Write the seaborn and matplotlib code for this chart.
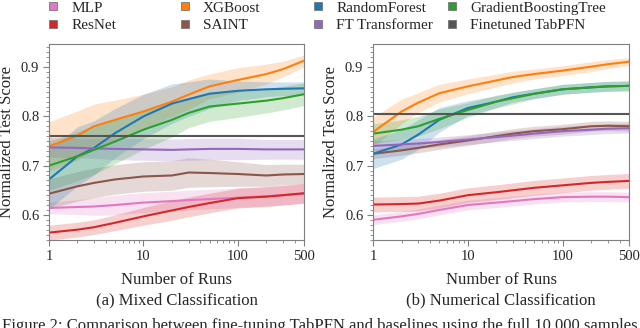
import matplotlib
matplotlib.use("Agg")
import matplotlib.pyplot as plt
from matplotlib.lines import Line2D
from matplotlib.ticker import FixedLocator, MultipleLocator, NullFormatter
import pandas as pd
import seaborn as sns

RUNS = [1, 2, 3, 5, 10, 20, 30, 50, 100, 200, 300, 500]
MODELS = ["MLP", "ResNet", "XGBoost", "SAINT", "RandomForest",
          "FT Transformer", "GradientBoostingTree"]
COLORS = {
    "MLP": "#e377c2",
    "ResNet": "#d62728",
    "XGBoost": "#ff7f0e",
    "SAINT": "#8c564b",
    "RandomForest": "#1f77b4",
    "FT Transformer": "#9467bd",
    "GradientBoostingTree": "#2ca02c",
    "Finetuned TabPFN": "#555555",
}

# (a) Mixed classification
mixed_mean = {
    "MLP": [0.614, 0.616, 0.617, 0.620, 0.625, 0.628, 0.630, 0.632, 0.635, 0.638, 0.640, 0.643],
    "ResNet": [0.564, 0.570, 0.575, 0.584, 0.597, 0.609, 0.616, 0.624, 0.634, 0.637, 0.640, 0.644],
    "XGBoost": [0.739, 0.761, 0.780, 0.793, 0.810, 0.830, 0.844, 0.861, 0.874, 0.886, 0.896, 0.913],
    "SAINT": [0.643, 0.658, 0.665, 0.672, 0.678, 0.680, 0.686, 0.685, 0.683, 0.680, 0.682, 0.683],
    "RandomForest": [0.672, 0.719, 0.736, 0.766, 0.800, 0.826, 0.835, 0.846, 0.852, 0.855, 0.856, 0.857],
    "FT Transformer": [0.737, 0.736, 0.735, 0.734, 0.733, 0.732, 0.733, 0.734, 0.734, 0.733, 0.733, 0.733],
    "GradientBoostingTree": [0.700, 0.719, 0.732, 0.749, 0.773, 0.793, 0.807, 0.820, 0.826, 0.832, 0.837, 0.845],
}
mixed_spread = {
    "MLP": [0.012, 0.015, 0.018, 0.020, 0.020, 0.020, 0.020, 0.020, 0.020, 0.020, 0.020, 0.020],
    "ResNet": [0.015, 0.015, 0.015, 0.016, 0.018, 0.020, 0.020, 0.020, 0.020, 0.020, 0.020, 0.020],
    "XGBoost": [0.050, 0.050, 0.045, 0.040, 0.035, 0.030, 0.030, 0.025, 0.025, 0.020, 0.016, 0.012],
    "SAINT": [0.030, 0.030, 0.030, 0.030, 0.030, 0.030, 0.030, 0.028, 0.025, 0.022, 0.021, 0.020],
    "RandomForest": [0.060, 0.060, 0.055, 0.050, 0.045, 0.040, 0.035, 0.030, 0.020, 0.015, 0.014, 0.013],
    "FT Transformer": [0.020, 0.020, 0.020, 0.022, 0.022, 0.022, 0.022, 0.022, 0.022, 0.020, 0.020, 0.020],
    "GradientBoostingTree": [0.050, 0.050, 0.050, 0.045, 0.040, 0.035, 0.030, 0.030, 0.028, 0.025, 0.024, 0.023],
}
mixed_tabpfn = 0.760

# (b) Numerical classification
numerical_mean = {
    "MLP": [0.590, 0.597, 0.602, 0.610, 0.620, 0.625, 0.628, 0.632, 0.636, 0.637, 0.637, 0.636],
    "ResNet": [0.621, 0.622, 0.623, 0.629, 0.640, 0.646, 0.650, 0.655, 0.660, 0.665, 0.667, 0.669],
    "XGBoost": [0.768, 0.810, 0.828, 0.847, 0.861, 0.873, 0.880, 0.886, 0.893, 0.901, 0.906, 0.911],
    "SAINT": [0.724, 0.731, 0.736, 0.743, 0.751, 0.760, 0.765, 0.770, 0.774, 0.780, 0.781, 0.780],
    "RandomForest": [0.724, 0.743, 0.763, 0.793, 0.817, 0.830, 0.839, 0.846, 0.855, 0.859, 0.861, 0.862],
    "FT Transformer": [0.740, 0.743, 0.745, 0.748, 0.753, 0.758, 0.761, 0.765, 0.770, 0.773, 0.775, 0.776],
    "GradientBoostingTree": [0.765, 0.773, 0.780, 0.795, 0.813, 0.830, 0.837, 0.846, 0.855, 0.859, 0.861, 0.862],
}
numerical_spread = {
    "MLP": [0.010, 0.010, 0.010, 0.010, 0.010, 0.010, 0.010, 0.010, 0.010, 0.010, 0.010, 0.010],
    "ResNet": [0.015, 0.015, 0.015, 0.015, 0.015, 0.015, 0.015, 0.015, 0.015, 0.015, 0.015, 0.015],
    "XGBoost": [0.030, 0.025, 0.020, 0.018, 0.015, 0.013, 0.012, 0.010, 0.010, 0.010, 0.009, 0.008],
    "SAINT": [0.010, 0.010, 0.010, 0.010, 0.010, 0.010, 0.010, 0.010, 0.010, 0.010, 0.010, 0.010],
    "RandomForest": [0.030, 0.030, 0.030, 0.025, 0.015, 0.012, 0.010, 0.010, 0.010, 0.010, 0.010, 0.010],
    "FT Transformer": [0.010, 0.010, 0.010, 0.010, 0.010, 0.010, 0.010, 0.010, 0.010, 0.010, 0.010, 0.010],
    "GradientBoostingTree": [0.020, 0.020, 0.020, 0.020, 0.015, 0.013, 0.012, 0.010, 0.010, 0.010, 0.010, 0.010],
}
numerical_tabpfn = 0.805

X_TICKS = [1, 10, 100, 500]
X_TICK_LABELS = ["1", "10", "100", "500"]
Y_TICKS = [0.6, 0.7, 0.8, 0.9]

sns.set_style("ticks")
plt.rcParams["font.family"] = ["Liberation Serif", "DejaVu Serif"]

SPINE = "#7f7f7f"


def to_frame(mean, spread):
    rows = []
    for model in MODELS:
        for run, m, s in zip(RUNS, mean[model], spread[model]):
            rows.append({"model": model, "runs": run, "score": m,
                         "low": m - s, "high": m + s})
    return pd.DataFrame(rows)


def draw_panel(ax, mean, spread, tabpfn, subtitle):
    df = to_frame(mean, spread)
    for model in MODELS:
        sub = df[df["model"] == model]
        ax.fill_between(sub["runs"], sub["low"], sub["high"],
                        color=COLORS[model], alpha=0.22, linewidth=0)
    sns.lineplot(data=df, x="runs", y="score", hue="model", hue_order=MODELS,
                 palette=COLORS, linewidth=1.5, legend=False, ax=ax)
    ax.axhline(tabpfn, color=COLORS["Finetuned TabPFN"], linewidth=1.5)

    ax.set_xscale("log")
    ax.set_xlim(1, 500)
    ax.set_ylim(0.549, 0.947)
    ax.xaxis.set_major_locator(FixedLocator(X_TICKS))
    ax.set_xticklabels(X_TICK_LABELS)
    ax.xaxis.set_minor_locator(FixedLocator([2, 3, 4, 5, 6, 7, 8, 9, 20, 30, 40, 50,
                                             60, 70, 80, 90, 200, 300, 400]))
    ax.xaxis.set_minor_formatter(NullFormatter())
    ax.yaxis.set_major_locator(FixedLocator(Y_TICKS))
    ax.yaxis.set_minor_locator(MultipleLocator(0.01))
    ax.tick_params(axis="both", which="major", labelsize=10.5, length=4,
                   color=SPINE, width=0.8, pad=3)
    ax.tick_params(axis="both", which="minor", length=2, color=SPINE, width=0.6)
    for spine in ax.spines.values():
        spine.set_visible(True)
        spine.set_color(SPINE)
        spine.set_linewidth(0.8)
    ax.set_xlabel("Number of Runs", fontsize=12, labelpad=7)
    ax.set_ylabel("Normalized Test Score", fontsize=12, labelpad=4)
    ax.text(0.5, -0.306, subtitle, transform=ax.transAxes, ha="center",
            va="center", fontsize=12)


fig = plt.figure(figsize=(6.4, 3.28), dpi=100)
ax1 = fig.add_axes([49 / 640, 88 / 328, 255 / 640, 196 / 328])
ax2 = fig.add_axes([373 / 640, 88 / 328, 256 / 640, 196 / 328])

draw_panel(ax1, mixed_mean, mixed_spread, mixed_tabpfn, "(a) Mixed Classification")
draw_panel(ax2, numerical_mean, numerical_spread, numerical_tabpfn,
           "(b) Numerical Classification")

legend_cols = [
    ["MLP", "ResNet"],
    ["XGBoost", "SAINT"],
    ["RandomForest", "FT Transformer"],
    ["GradientBoostingTree", "Finetuned TabPFN"],
]
legend_x = [53, 185, 318, 452]
for names, mx in zip(legend_cols, legend_x):
    handles = [Line2D([], [], marker="s", linestyle="none", markersize=6,
                      markerfacecolor=COLORS[n], markeredgecolor="#777777",
                      markeredgewidth=0.6, label=n) for n in names]
    fig.legend(handles=handles, loc="upper left",
               bbox_to_anchor=((mx - 7.6) / 640, 1 - 1 / 328), frameon=False,
               fontsize=11, handlelength=1.0, handletextpad=0.68,
               borderpad=0.0, borderaxespad=0.0, labelspacing=0.25)

fig.text(0.5, 1 - 318 / 328, "Figure 2: Comparison between fine-tuning TabPFN and "
         "baselines using the full 10,000 samples", ha="center", va="top",
         fontsize=12)

fig.savefig("out.png", dpi=100)
